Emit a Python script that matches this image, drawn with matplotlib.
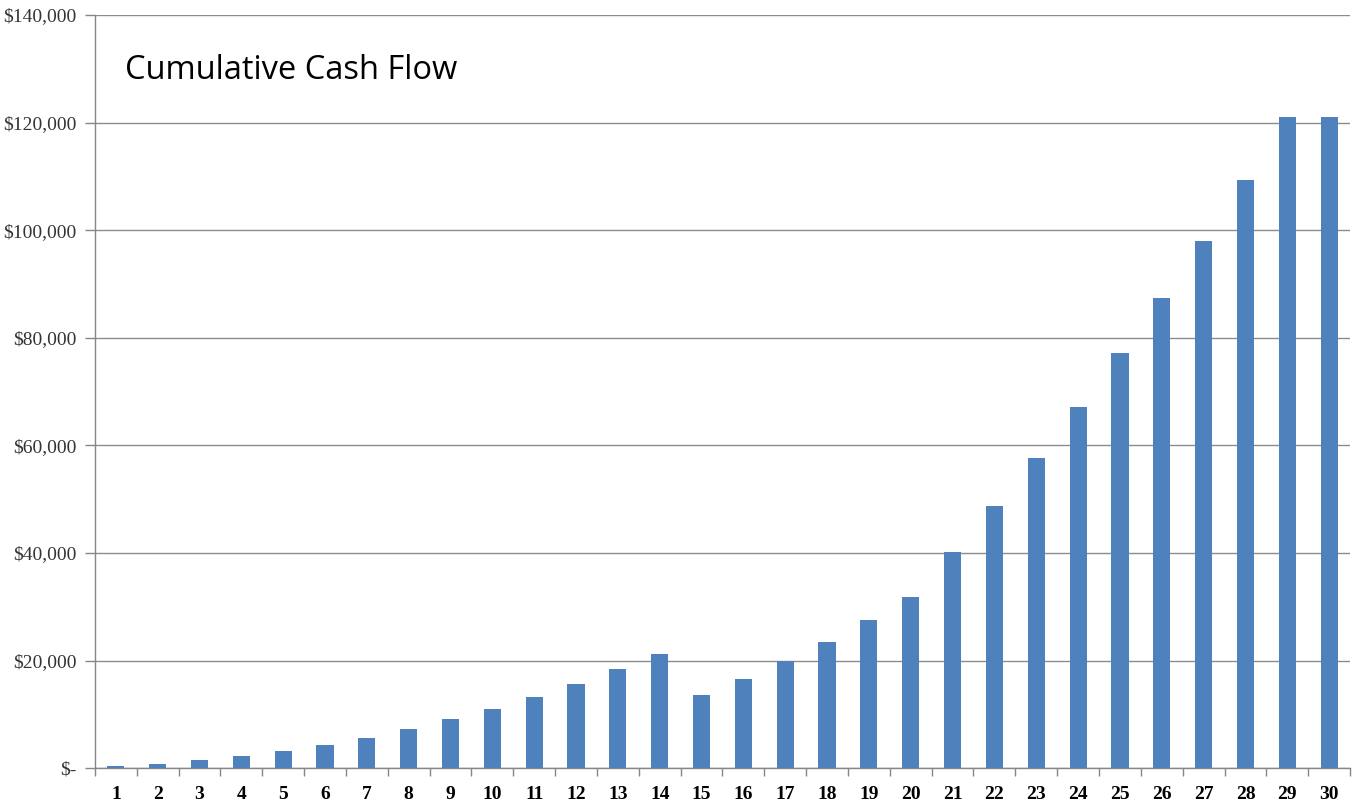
import numpy as np
import matplotlib
import matplotlib.pyplot as plt
from matplotlib.ticker import FuncFormatter, FixedLocator

# 年ごとの累積キャッシュフロー
years = list(range(1, 31))
cumulative_cash = [350, 700, 1500, 2200, 3200, 4300, 5600, 7300, 9100, 11000,
                   13300, 15600, 18500, 21300, 13500, 16600, 19900, 23400, 27500, 31800,
                   40200, 48700, 57600, 67100, 77200, 87400, 98000, 109300, 121100, 121100]
chart_title = "Cumulative Cash Flow"

fig = plt.figure(figsize=(13.56, 8.06), dpi=100)
ax = fig.add_axes([0.070, 0.047, 0.9256, 0.9344])

x = np.arange(len(years))
ax.bar(x, cumulative_cash, width=0.41, color="#4f81bd", zorder=3)

ax.set_xlim(-0.5, len(years) - 0.5)
ax.set_ylim(0, 140000)
ax.set_yticks(np.arange(0, 140001, 20000))


def money(v, pos):
    if v == 0:
        return "$-"
    return "${:,.0f}".format(v)


ax.yaxis.set_major_formatter(FuncFormatter(money))
ax.set_xticks(x)
ax.set_xticklabels([str(y) for y in years])
ax.tick_params(axis="x", length=0, pad=13, labelsize=14, labelcolor="black")
ax.tick_params(axis="y", length=7, width=1, color="#868686", pad=6,
               labelsize=14, labelcolor="#333333")
for lab in ax.get_xticklabels() + ax.get_yticklabels():
    lab.set_family("Liberation Serif")
for lab in ax.get_xticklabels():
    lab.set_fontweight("bold")

# カテゴリの境目に目盛り線
ax.xaxis.set_minor_locator(FixedLocator(np.arange(-0.5, len(years), 1.0)))
ax.tick_params(axis="x", which="minor", length=6, width=1, color="#868686")

ax.grid(axis="y", color="#8c8c8c", linewidth=1, zorder=0)
for side in ["top", "right"]:
    ax.spines[side].set_visible(False)
for side in ["left", "bottom"]:
    ax.spines[side].set_color("#868686")
    ax.spines[side].set_linewidth(1)

fig.text(0.092, 0.892, chart_title, fontsize=23.5, family="Open Sans", color="black",
         va="bottom", ha="left")

plt.savefig("out.png", dpi=100)
